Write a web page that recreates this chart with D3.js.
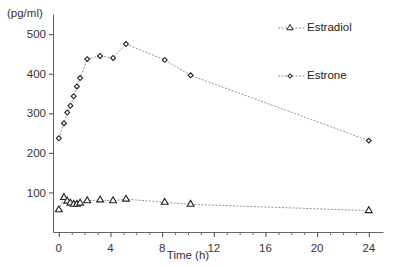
<!DOCTYPE html>
<html>
<head>
<meta charset="utf-8">
<script src="https://cdn.jsdelivr.net/npm/d3@7"></script>
<style>
  body { margin: 0; background: #fff; }
  svg { font-family: "Liberation Sans", Arial, sans-serif; }
</style>
</head>
<body>
<div id="chart"></div>
<script>
// Sampling times (h)
const times = [0, 0.4, 0.65, 0.9, 1.15, 1.4, 1.65, 2.2, 3.2, 4.2, 5.2, 8.2, 10.2, 24];
// Concentrations (pg/ml)
const estradiol = [56, 87, 78, 73, 70, 70, 73, 79, 81, 79, 83, 75, 70, 54];
const estrone = [237, 275, 302, 319, 343, 368, 389, 437, 445, 440, 475, 435, 396, 231];
const xTicks = [0, 4, 8, 12, 16, 20, 24];
const yTicks = [100, 200, 300, 400, 500];

const width = 400, height = 267,
    margin = ({top: 14, right: 17, bottom: 35, left: 53});

const svg = d3.select("#chart")
    .append("svg")
    .attr("width", width)
    .attr("height", height);

// Scales
const x = d3.scaleLinear()
    .domain([-0.45, 25.1])
    .range([margin.left, width - margin.right]);

const y = d3.scaleLinear()
    .domain([0, 551])
    .range([height - margin.bottom, margin.top]);

const line = d3.line()
    .x(d => x(d.t))
    .y(d => y(d.v));

// diamond drawn as a rotated square, rounder than d3.symbolDiamond
const series = [
    {name: "Estradiol", values: estradiol, symbol: d3.symbolTriangle, size: 20, rot: 0},
    {name: "Estrone", values: estrone, symbol: d3.symbolSquare, size: 12, rot: 45}
];

// Lines and markers
for (let s of series) {
    let pts = times.map((t, i) => ({t: t, v: s.values[i]}));
    svg.append("path")
        .datum(pts)
        .attr("fill", "none")
        .attr("stroke", "#777")
        .attr("stroke-width", 0.8)
        .attr("stroke-dasharray", "2,1.5")
        .attr("d", line);

    svg.append("g")
        .selectAll("path")
        .data(pts)
        .join("path")
        .attr("d", d3.symbol().type(s.symbol).size(s.size))
        .attr("transform", d => `translate(${x(d.t)},${y(d.v)}) rotate(${s.rot})`)
        .attr("fill", "#fff")
        .attr("stroke", "#222")
        .attr("stroke-width", 1.1);
}

// x-axis: major ticks every 4 h, minor every hour
const xAxis = svg.append("g")
    .attr("transform", `translate(0,${height - margin.bottom})`);
xAxis.call(d3.axisBottom(x)
        .tickValues(d3.range(0, 25, 1))
        .tickSize(3)
        .tickSizeOuter(0)
        .tickFormat(""));
xAxis.call(g => g.selectAll(".tick line")
        .attr("stroke", d => xTicks.includes(d) ? "#444" : "#666")
        .attr("y2", d => xTicks.includes(d) ? 5 : 3));
xAxis.select(".domain").attr("stroke", "#666");

xAxis.selectAll(".lbl")
    .data(xTicks)
    .join("text")
    .attr("class", "lbl")
    .attr("x", d => x(d))
    .attr("y", 20)
    .attr("text-anchor", "middle")
    .attr("fill", "#333")
    .attr("font-size", 11.5)
    .text(d => d);

// y-axis
const yAxis = svg.append("g")
    .attr("transform", `translate(${margin.left},0)`)
    .call(d3.axisLeft(y)
        .tickValues(yTicks)
        .tickSize(4)
        .tickSizeOuter(0)
        .tickPadding(3));
yAxis.select(".domain").attr("stroke", "#666");
yAxis.selectAll(".tick line").attr("stroke", "#444");
yAxis.selectAll(".tick text")
    .attr("fill", "#333")
    .attr("font-size", 11.5)
    .attr("font-family", "Liberation Sans, Arial, sans-serif");

// Axis labels
svg.append("text")
    .attr("x", 188)
    .attr("y", 259)
    .attr("text-anchor", "middle")
    .attr("fill", "#333")
    .attr("font-size", 11.5)
    .text("Time (h)");

svg.append("text")
    .attr("x", 7)
    .attr("y", 17)
    .attr("fill", "#333")
    .attr("font-size", 11.5)
    .text("(pg/ml)");

// Legend
const legend = svg.append("g");
series.forEach((s, i) => {
    let ly = 28 + i * 48;
    legend.append("line")
        .attr("x1", 278).attr("x2", 305)
        .attr("y1", ly).attr("y2", ly)
        .attr("stroke", "#777")
        .attr("stroke-width", 0.8)
        .attr("stroke-dasharray", "2,1.5");
    legend.append("path")
        .attr("d", d3.symbol().type(s.symbol).size(s.size - 3))
        .attr("transform", `translate(290,${ly}) rotate(${s.rot})`)
        .attr("fill", "#fff")
        .attr("stroke", "#222");
    legend.append("text")
        .attr("x", 307)
        .attr("y", ly)
        .attr("dominant-baseline", "middle")
        .attr("fill", "#222")
        .attr("font-size", 11.5)
        .text(s.name);
});
</script>
</body>
</html>
